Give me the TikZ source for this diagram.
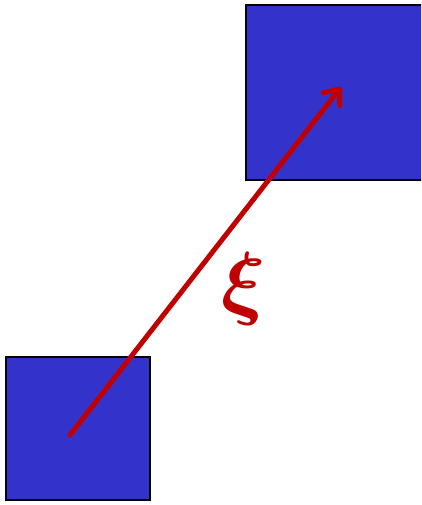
\documentclass[tikz,border=0pt]{standalone}
\usepackage{tikz}
\usepackage{amsmath,amssymb,bm}
\usetikzlibrary{arrows.meta}

\definecolor{squareblue}{RGB}{51,51,204}
\definecolor{arrowred}{RGB}{192,0,0}

\begin{document}
\begin{tikzpicture}[
    x=1pt, y=-1pt,
    block/.style={rectangle, draw=black, fill=squareblue, line width=1.8pt, inner sep=0pt},
    shift arrow/.style={-{Straight Barb[length=13pt, width=21pt, round]}, line width=5pt, line cap=round, draw=arrowred}
]
\useasboundingbox (0,0) rectangle (421,505);
\clip (0,0) rectangle (421,505);

% Squares
\node[block, minimum width=144pt, minimum height=143pt] (source) at (78,428.5) {};
\node[block, minimum width=185pt, minimum height=175pt] (target) at (338.5,92.5) {};

% Ends of the shift vector
\coordinate (start) at (70,435);
\coordinate (tip) at (341,87);

\draw[shift arrow] (start) -- (tip);

% Label
\node[text=arrowred, font=\Huge, scale=3.3] (xi) at (244,289) {$\bm{\xi}$};

\end{tikzpicture}
\end{document}
